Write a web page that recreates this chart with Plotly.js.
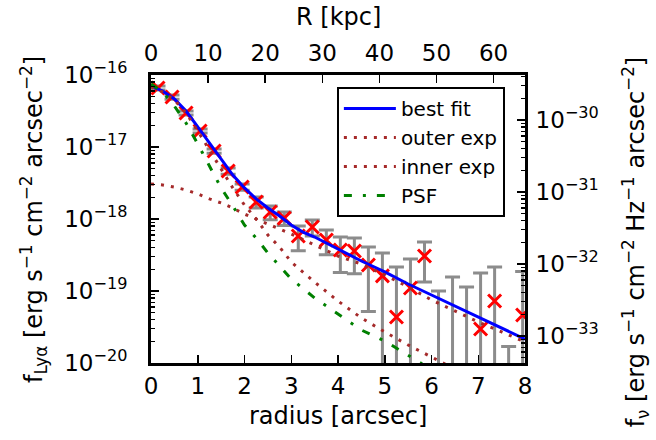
<!DOCTYPE html>
<html><head><meta charset="utf-8">
<script src="https://cdn.plot.ly/plotly-3.0.1.min.js"></script>
<style>html,body{margin:0;padding:0;background:#fff}#chart{width:656px;height:440px}</style>
</head><body><div id="chart"></div>
<script>
// measured surface-brightness profile (arcsec, erg/s/cm2/arcsec2)
const radius = [0.15,0.45,0.75,1.05,1.35,1.65,1.95,2.25,2.55,2.85,3.15,3.45,3.75,4.05,4.35,4.65,4.95,5.25,5.55,5.85,6.15,6.45,6.75,7.05,7.35,7.65,7.95];
const flux = [6.60e-17,4.95e-17,2.97e-17,1.67e-17,8.8e-18,4.64e-18,2.78e-18,1.72e-18,1.25e-18,1.03e-18,5.81e-19,7.74e-19,5.11e-19,3.71e-19,3.59e-19,2.30e-19,1.62e-19,4.35e-20,1.10e-19,3.06e-19,2e-21,2e-21,2e-21,2.97e-20,7.26e-20,2e-21,4.64e-20];
const fluxErr = [4.3e-18,3.3e-18,1.9e-18,1.1e-18,6e-19,4.7e-19,2.8e-19,3.0e-19,2.7e-19,2.2e-19,2.2e-19,1.94e-19,1.92e-19,1.91e-19,1.85e-19,1.78e-19,1.75e-19,1.72e-19,1.68e-19,1.73e-19,0.98e-19,1.54e-19,1.12e-19,1.48e-19,1.43e-19,1.5e-20,1.4e-19];

// model curves
const fitR = [0,0.25,0.5,0.75,1.0,1.25,1.5,1.75,2.0,2.25,2.5,2.75,3.0,3.25,3.5,3.75,4.0,4.5,5.0,5.5,6.0,6.5,7.0,7.5,8.0];
const fitFlux = [7.03e-17,6.00e-17,4.64e-17,3.16e-17,1.90e-17,1.14e-17,6.59e-18,4.08e-18,2.70e-18,1.90e-18,1.42e-18,1.10e-18,8.25e-19,6.59e-19,5.62e-19,4.64e-19,3.83e-19,2.61e-19,1.84e-19,1.25e-19,8.80e-20,6.19e-20,4.35e-20,3.06e-20,2.15e-20];

const outerR = [0,0.25,0.5,0.75,1.0,1.25,1.5,1.75,2.0,2.5,3.0,3.5,4.0,4.5,5.0,5.5,6.0,6.5,7.0,7.5,8.0];
const outerFlux = [3.06e-18,2.97e-18,2.78e-18,2.53e-18,2.23e-18,1.90e-18,1.67e-18,1.42e-18,1.17e-18,8.53e-19,6.19e-19,4.35e-19,3.06e-19,2.37e-19,1.67e-19,1.14e-19,7.50e-20,5.28e-20,3.71e-20,2.70e-20,1.96e-20];

const innerR = [0,0.25,0.5,0.75,1.0,1.25,1.5,1.75,2.0,2.25,2.5,2.75,3.0,3.5,4.0,4.5,5.0,5.5,6.0,6.2,6.4];
const innerFlux = [6.81e-17,5.81e-17,4.50e-17,2.97e-17,1.67e-17,9.09e-18,4.94e-18,2.70e-18,1.56e-18,1.00e-18,6.00e-19,4.08e-19,2.53e-19,1.33e-19,7.26e-20,4.22e-20,2.70e-20,1.78e-20,1.21e-20,1.03e-20,8.9e-21];

const psfR = [0,0.25,0.5,0.75,1.0,1.25,1.5,1.75,2.0,2.25,2.5,2.75,3.0,3.5,4.0,4.5,5.0,5.5,5.8];
const psfFlux = [7.50e-17,5.81e-17,3.71e-17,2.15e-17,1.10e-17,5.44e-18,2.70e-18,1.52e-18,8.25e-19,5.44e-19,3.37e-19,2.22e-19,1.47e-19,8.00e-20,4.80e-20,2.87e-20,2.02e-20,1.29e-20,9.7e-21];

// axes
const xTicks = [0,1,2,3,4,5,6,7,8];
const kpcTicks = [0,10,20,30,40,50,60];
const kpcRange = [0, 65.5];
const yTickVals = [1e-20,1e-19,1e-18,1e-17,1e-16];
const yTickText = ['10<sup>−20</sup>','10<sup>−19</sup>','10<sup>−18</sup>','10<sup>−17</sup>','10<sup>−16</sup>'];
const nuTickVals = [1e-33,1e-32,1e-31,1e-30];
const nuTickText = ['10<sup>−33</sup>','10<sup>−32</sup>','10<sup>−31</sup>','10<sup>−30</sup>'];
const nuLogRange = [-33.375, -29.375];

function minorVals(e0, e1) {
  const out = [];
  for (let e = e0; e <= e1; e++) for (let k = 2; k <= 9; k++) out.push(k * Math.pow(10, e));
  return out;
}

const F = 'DejaVu Sans';
const traces = [
  {x: radius, y: flux, mode: 'markers', showlegend: false, hoverinfo: 'skip',
   marker: {symbol: 'x-thin', size: 13, color: 'red', line: {color: 'red', width: 3}},
   error_y: {type: 'data', array: fluxErr, visible: true, color: '#8c8c8c', thickness: 3, width: 7.5}},
  {x: fitR, y: fitFlux, mode: 'lines', name: 'best fit', legendgroup: 'a',
   line: {color: 'blue', width: 3}},
  {x: outerR, y: outerFlux, mode: 'lines', name: 'outer exp', legendgroup: 'b',
   line: {color: '#a52a2a', width: 3, dash: '3px,7px'}},
  {x: innerR, y: innerFlux, mode: 'lines', name: 'inner exp', legendgroup: 'c',
   line: {color: '#a52a2a', width: 3, dash: '3px,7px'}},
  {x: psfR, y: psfFlux, mode: 'lines', name: 'PSF', legendgroup: 'd',
   line: {color: 'green', width: 3, dash: '8px,11px,3px,11px'}},
  {x: [], y: [], xaxis: 'x2', yaxis: 'y2', showlegend: false, hoverinfo: 'skip', mode: 'markers'}
];

const tickFont = {family: F, size: 23, color: 'black'};
const layout = {
  width: 656, height: 440,
  margin: {l: 151, r: 131, t: 75, b: 77},
  paper_bgcolor: 'white', plot_bgcolor: 'white',
  font: {family: F, color: 'black'},
  showlegend: true,
  legend: {x: 0.497, y: 0.958, xanchor: 'left', yanchor: 'top', bgcolor: 'white',
           bordercolor: 'black', borderwidth: 2, font: {family: F, size: 20, color: 'black'},
           tracegroupgap: 0, itemwidth: 52},
  xaxis: {range: [0, 8], tickmode: 'array', tickvals: xTicks, ticks: 'inside', ticklen: 8, tickwidth: 1.5,
          tickcolor: 'black', showline: true, linecolor: 'black', linewidth: 3, showgrid: false, zeroline: false,
          tickfont: tickFont, ticklabelstandoff: 0},
  xaxis2: {range: kpcRange, overlaying: 'x', side: 'top', anchor: 'y', tickmode: 'array', tickvals: kpcTicks,
           ticks: 'inside', ticklen: 8, tickwidth: 1.5, tickcolor: 'black', showline: true, linecolor: 'black',
           linewidth: 3, showgrid: false, zeroline: false, tickfont: tickFont, ticklabelstandoff: 2},
  yaxis: {type: 'log', range: [-20, -16], tickmode: 'array', tickvals: yTickVals, ticktext: yTickText,
          ticks: 'inside', ticklen: 8, tickwidth: 1.5, tickcolor: 'black', showline: true, linecolor: 'black',
          linewidth: 3, showgrid: false, zeroline: false, tickfont: tickFont, ticklabelstandoff: 16,
          minor: {tickmode: 'array', tickvals: minorVals(-20, -17), ticks: 'inside', ticklen: 4, tickwidth: 1.2, tickcolor: 'black', showgrid: false}},
  yaxis2: {type: 'log', range: nuLogRange, overlaying: 'y', side: 'right', anchor: 'x', tickmode: 'array',
           tickvals: nuTickVals, ticktext: nuTickText, ticks: 'inside', ticklen: 8, tickwidth: 1.5,
           tickcolor: 'black', showline: true, linecolor: 'black', linewidth: 3, showgrid: false, zeroline: false,
           tickfont: tickFont, ticklabelstandoff: 3,
           minor: {tickmode: 'array', tickvals: minorVals(-34, -30), ticks: 'inside', ticklen: 4, tickwidth: 1.2, tickcolor: 'black', showgrid: false}},
  annotations: [
    {text: 'radius [arcsec]', xref: 'paper', yref: 'paper', x: 0.5, y: -0.184, xanchor: 'center', yanchor: 'middle',
     showarrow: false, font: {family: F, size: 24, color: 'black'}},
    {text: 'R [kpc]', xref: 'paper', yref: 'paper', x: 0.5, y: 1.201, xanchor: 'center', yanchor: 'middle',
     showarrow: false, font: {family: F, size: 24, color: 'black'}},
    {text: 'f<sub>Lyα</sub> [erg s<sup>−1</sup> cm<sup>−2</sup> arcsec<sup>−2</sup>]', xref: 'paper', yref: 'paper',
     x: -0.3155, y: 0.4965, xanchor: 'center', yanchor: 'middle', textangle: -90, showarrow: false,
     font: {family: F, size: 24, color: 'black'}},
    {text: 'f<sub>ν</sub> [erg s<sup>−1</sup> cm<sup>−2</sup> Hz<sup>−1</sup> arcsec<sup>−2</sup>]', xref: 'paper', yref: 'paper',
     x: 1.295, y: 0.42, xanchor: 'center', yanchor: 'middle', textangle: -90, showarrow: false,
     font: {family: F, size: 24, color: 'black'}}
  ]
};

Plotly.newPlot('chart', traces, layout, {staticPlot: true, displayModeBar: false});
</script>
</body></html>
